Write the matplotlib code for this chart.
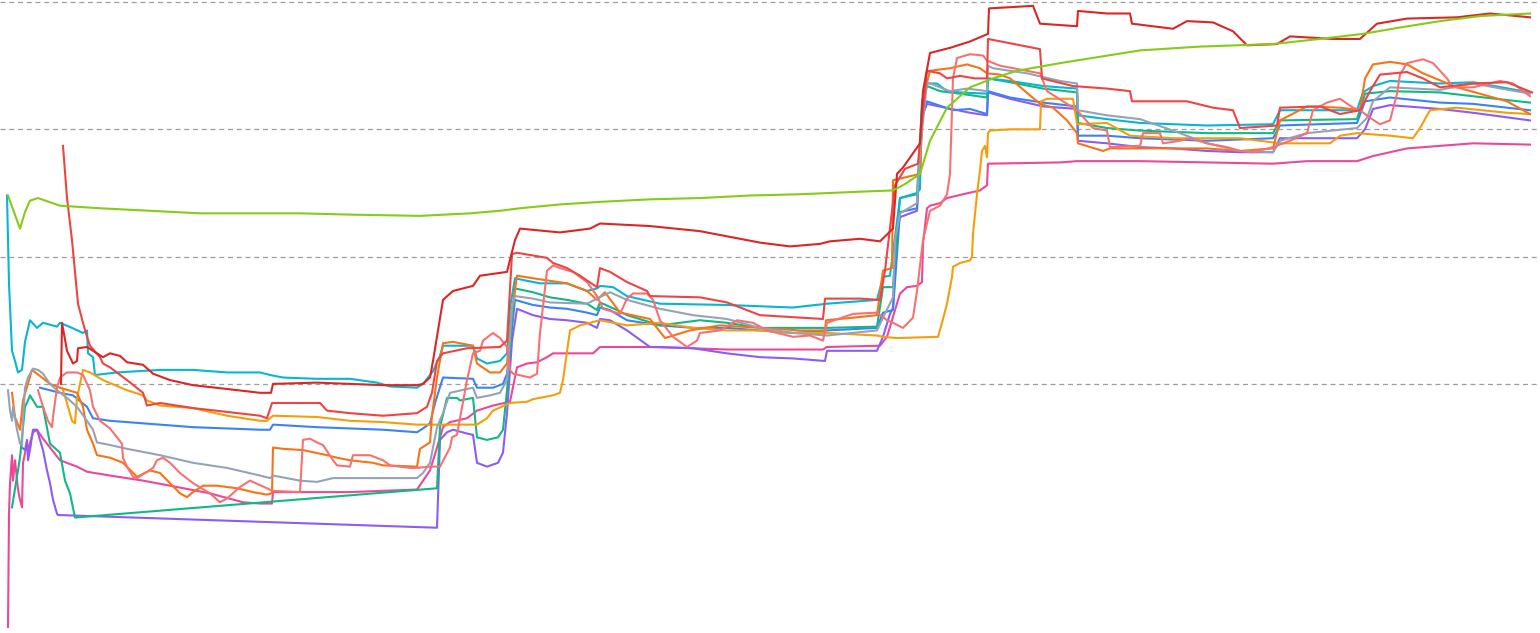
import matplotlib
matplotlib.use("Agg")
from matplotlib import pyplot as plt

# x = sample index, y = value (grid lines at 1, 2, 3, 4)
lime_x = [8, 14, 20, 25, 30, 38, 60, 100, 150, 200, 300, 350, 420, 470, 500, 520, 560, 600, 650, 700, 750, 800,
          860, 893, 905, 920, 930, 947, 970, 993, 1017, 1060, 1140, 1200, 1273, 1320, 1363, 1400, 1440, 1480, 1530]
lime_y = [2.48, 2.35, 2.22, 2.35, 2.44, 2.46, 2.40, 2.38, 2.36, 2.34, 2.34, 2.33, 2.32, 2.34, 2.36, 2.38, 2.41, 2.43,
          2.45, 2.46, 2.48, 2.49, 2.51, 2.52, 2.57, 2.65, 2.91, 3.17, 3.33, 3.40, 3.46, 3.52, 3.62, 3.65, 3.67, 3.71,
          3.75, 3.80, 3.85, 3.89, 3.91]

darkred_x = [61, 62, 67, 73, 77, 78, 87, 93, 103, 110, 120, 127, 143, 153, 170, 193, 227, 260, 271, 273,
             317, 350, 383, 417, 423, 430, 433, 443, 453, 473, 480, 507, 515, 520, 560, 590, 600, 650, 700, 740,
             760, 790, 820, 830, 860, 880, 893, 897, 903, 920, 923, 930, 950, 970, 988, 989, 1033, 1040, 1077, 1078,
             1107, 1130, 1132, 1173, 1187, 1213, 1233, 1247, 1277, 1290, 1333, 1360, 1377, 1407, 1457, 1490, 1530]
darkred_y = [1.00, 1.48, 1.26, 1.16, 1.18, 1.28, 1.29, 1.26, 1.21, 1.24, 1.22, 1.17, 1.15, 1.08, 1.03, 0.99, 0.96,
             0.93, 0.93, 1.00, 1.01, 1.00, 0.99, 0.99, 1.00, 1.05, 1.18, 1.66, 1.73, 1.77, 1.85, 1.88, 2.13, 2.22,
             2.19, 2.22, 2.26, 2.24, 2.20, 2.14, 2.11, 2.08, 2.10, 2.12, 2.14, 2.12, 2.22, 2.65, 2.70, 2.89, 3.30,
             3.60, 3.64, 3.69, 3.75, 3.95, 3.97, 3.83, 3.81, 3.93, 3.91, 3.91, 3.83, 3.79, 3.85, 3.84, 3.77, 3.66,
             3.67, 3.73, 3.71, 3.71, 3.83, 3.87, 3.88, 3.91, 3.88]

red_x = [63, 67, 72, 78, 83, 87, 90, 100, 103, 110, 127, 143, 147, 160, 193, 227, 260, 267, 272, 300, 320, 327,
         350, 383, 417, 427, 432, 437, 443, 467, 500, 507, 512, 517, 547, 553, 567, 580, 597, 600, 610, 627, 647,
         650, 700, 727, 760, 823, 825, 860, 880, 885, 895, 905, 918, 922, 927, 940, 947, 960, 975, 987, 988, 1040,
         1042, 1073, 1107, 1130, 1132, 1187, 1213, 1233, 1240, 1277, 1280, 1320, 1340, 1360, 1370, 1380, 1407,
         1423, 1440, 1473, 1507, 1532]
red_y = [2.87, 2.46, 2.13, 1.63, 1.48, 1.37, 1.30, 1.21, 1.16, 1.13, 1.03, 0.93, 0.83, 0.85, 0.81, 0.78, 0.75,
         0.73, 0.85, 0.85, 0.85, 0.79, 0.77, 0.75, 0.77, 0.82, 0.93, 1.18, 1.24, 1.28, 1.29, 1.34, 2.02, 2.03, 1.99,
         1.95, 1.91, 1.85, 1.76, 1.91, 1.88, 1.80, 1.73, 1.69, 1.68, 1.64, 1.54, 1.51, 1.67, 1.67, 1.66, 1.89, 2.56,
         2.69, 2.73, 3.07, 3.46, 3.44, 3.40, 3.42, 3.40, 3.40, 3.71, 3.63, 3.40, 3.34, 3.32, 3.30, 3.22, 3.22, 3.17,
         3.15, 3.01, 3.03, 3.17, 3.18, 3.12, 3.15, 3.30, 3.43, 3.45, 3.40, 3.33, 3.36, 3.37, 3.29]

cyan_x = [7, 9, 12, 15, 18, 22, 25, 30, 37, 43, 57, 60, 72, 83, 87, 88, 93, 95, 117, 160, 193, 227, 260, 270, 283,
          317, 350, 377, 390, 417, 423, 433, 440, 443, 473, 477, 487, 500, 507, 510, 515, 527, 540, 567, 587, 597,
          600, 613, 627, 660, 727, 793, 827, 877, 883, 890, 900, 917, 920, 922, 927, 937, 947, 960, 987, 988, 1010,
          1043, 1077, 1078, 1107, 1140, 1173, 1207, 1273, 1280, 1357, 1363, 1373, 1390, 1440, 1473, 1530]
cyan_y = [2.48, 1.79, 1.26, 1.18, 1.09, 1.11, 1.33, 1.50, 1.44, 1.48, 1.45, 1.48, 1.44, 1.40, 1.42, 1.24, 1.21,
          1.07, 1.09, 1.11, 1.11, 1.09, 1.09, 1.07, 1.05, 1.04, 1.04, 1.01, 0.98, 0.97, 1.00, 1.10, 1.22, 1.30,
          1.30, 1.20, 1.16, 1.18, 1.24, 1.60, 1.83, 1.81, 1.79, 1.79, 1.73, 1.75, 1.77, 1.76, 1.69, 1.63, 1.62,
          1.60, 1.63, 1.66, 1.84, 1.85, 2.46, 2.50, 2.53, 3.22, 3.36, 3.36, 3.30, 3.29, 3.28, 3.40, 3.38, 3.34,
          3.32, 3.11, 3.08, 3.05, 3.04, 3.03, 3.04, 3.15, 3.15, 3.29, 3.34, 3.38, 3.36, 3.37, 3.29]

orange_x = [12, 15, 20, 23, 32, 37, 50, 60, 77, 83, 87, 93, 97, 110, 123, 137, 150, 160, 170, 180, 187, 193, 203,
            217, 237, 253, 267, 272, 273, 283, 303, 327, 337, 350, 373, 383, 417, 420, 430, 432, 437, 443, 453, 473,
            477, 490, 500, 507, 512, 517, 533, 550, 567, 587, 597, 605, 620, 650, 665, 690, 720, 760, 800, 825, 826,
            853, 877, 883, 892, 893, 920, 923, 930, 950, 967, 980, 987, 1000, 1010, 1040, 1053, 1067, 1077, 1078,
            1103, 1110, 1140, 1207, 1240, 1273, 1280, 1307, 1340, 1360, 1365, 1373, 1390, 1407, 1423, 1457, 1507,
            1530]
orange_y = [0.93, 0.74, 0.64, 0.87, 1.11, 1.08, 1.00, 0.97, 0.93, 0.82, 0.64, 0.53, 0.44, 0.42, 0.38, 0.27, 0.32,
            0.30, 0.22, 0.14, 0.11, 0.15, 0.20, 0.20, 0.18, 0.15, 0.13, 0.14, 0.50, 0.49, 0.48, 0.44, 0.42, 0.40,
            0.38, 0.36, 0.35, 0.49, 0.54, 0.75, 1.05, 1.32, 1.33, 1.30, 1.16, 1.09, 1.09, 1.16, 1.58, 1.85, 1.83,
            1.81, 1.79, 1.73, 1.66, 1.72, 1.56, 1.51, 1.36, 1.42, 1.46, 1.44, 1.42, 1.42, 1.50, 1.52, 1.54, 1.89,
            1.91, 2.60, 2.65, 3.25, 3.46, 3.48, 3.51, 3.48, 3.44, 3.43, 3.40, 3.20, 3.17, 3.07, 2.97, 2.89, 2.83,
            2.85, 2.85, 2.85, 2.83, 2.85, 3.07, 3.18, 3.17, 3.15, 3.40, 3.51, 3.53, 3.51, 3.44, 3.33, 3.22, 3.12]

amber_x = [63, 67, 72, 75, 77, 83, 90, 103, 127, 143, 147, 160, 193, 227, 260, 267, 273, 317, 350, 383, 417, 477,
           487, 493, 510, 527, 533, 553, 560, 563, 570, 580, 600, 627, 660, 693, 727, 760, 793, 827, 877, 883, 897,
           938, 942, 947, 952, 953, 960, 970, 972, 973, 977, 980, 982, 985, 987, 988, 990, 1010, 1040, 1041, 1047,
           1073, 1077, 1107, 1130, 1173, 1207, 1240, 1280, 1307, 1330, 1340, 1357, 1373, 1390, 1413, 1420, 1430,
           1457, 1507, 1530]
amber_y = [0.95, 0.85, 0.71, 0.69, 0.89, 1.11, 1.09, 1.03, 0.95, 0.91, 0.87, 0.83, 0.81, 0.75, 0.71, 0.71, 0.75,
           0.74, 0.71, 0.70, 0.68, 0.68, 0.73, 0.79, 0.85, 0.86, 0.88, 0.91, 0.93, 1.03, 1.42, 1.46, 1.50, 1.46,
           1.48, 1.44, 1.42, 1.42, 1.40, 1.40, 1.38, 1.37, 1.36, 1.37, 1.48, 1.63, 1.84, 1.92, 1.95, 1.97, 2.00,
           2.18, 2.49, 2.68, 2.83, 2.87, 2.78, 2.97, 2.99, 3.00, 3.00, 3.22, 3.24, 3.24, 3.04, 3.05, 2.95, 2.93,
           2.93, 2.93, 2.89, 2.89, 2.89, 2.95, 2.97, 2.96, 2.95, 2.93, 3.01, 3.15, 3.17, 3.13, 3.12]

blue_x = [40, 60, 73, 87, 93, 110, 127, 160, 193, 227, 260, 270, 273, 317, 350, 383, 417, 423, 430, 435, 443, 473,
          477, 493, 503, 507, 512, 515, 533, 550, 567, 587, 597, 600, 610, 627, 660, 693, 727, 760, 793, 827, 877,
          883, 893, 900, 917, 922, 927, 953, 970, 987, 988, 1010, 1043, 1077, 1078, 1107, 1140, 1207, 1273, 1280,
          1357, 1365, 1390, 1440, 1473, 1530]
blue_y = [0.97, 0.93, 0.91, 0.82, 0.73, 0.71, 0.70, 0.68, 0.66, 0.65, 0.64, 0.64, 0.68, 0.66, 0.65, 0.64, 0.62,
          0.65, 0.69, 0.85, 1.05, 1.04, 0.97, 0.97, 1.00, 1.08, 1.44, 1.66, 1.62, 1.60, 1.59, 1.56, 1.54, 1.60,
          1.58, 1.50, 1.46, 1.44, 1.44, 1.42, 1.40, 1.42, 1.44, 1.56, 1.58, 2.35, 2.38, 3.10, 3.22, 3.15, 3.16,
          3.12, 3.30, 3.25, 3.21, 3.18, 2.95, 2.95, 2.93, 2.91, 2.93, 3.03, 3.05, 3.22, 3.25, 3.21, 3.20, 3.15]

green_x = [12, 20, 25, 28, 30, 37, 43, 50, 60, 65, 70, 75, 437, 440, 447, 457, 460, 473, 477, 487, 498, 503, 507,
           512, 515, 533, 550, 567, 587, 597, 600, 617, 627, 660, 700, 727, 760, 793, 827, 877, 883, 893, 900, 917,
           922, 927, 940, 960, 987, 988, 1010, 1043, 1077, 1078, 1107, 1140, 1207, 1273, 1280, 1357, 1365, 1390,
           1440, 1473, 1530]
green_y = [0.03, 0.42, 0.82, 0.87, 0.91, 0.82, 0.82, 0.53, 0.46, 0.24, 0.14, -0.05, 0.18, 0.66, 0.89, 0.89, 0.87,
           0.89, 0.58, 0.56, 0.58, 0.64, 0.95, 1.50, 1.75, 1.72, 1.68, 1.66, 1.63, 1.58, 1.64, 1.58, 1.54, 1.46,
           1.50, 1.48, 1.44, 1.44, 1.44, 1.45, 1.76, 1.76, 2.46, 2.49, 3.20, 3.34, 3.30, 3.28, 3.25, 3.40, 3.37,
           3.32, 3.29, 3.05, 3.01, 2.99, 2.97, 2.97, 3.07, 3.08, 3.28, 3.30, 3.29, 3.26, 3.21]

gray_x = [8, 10, 12, 13, 17, 20, 22, 23, 25, 28, 33, 38, 43, 50, 57, 67, 77, 87, 93, 97, 110, 127, 160, 193, 227,
          260, 270, 273, 300, 317, 333, 417, 423, 430, 437, 443, 450, 467, 473, 477, 490, 500, 507, 512, 515, 533,
          550, 587, 597, 610, 627, 660, 693, 727, 760, 793, 827, 877, 883, 893, 895, 900, 917, 920, 927, 940, 950,
          967, 987, 988, 993, 1027, 1060, 1077, 1078, 1107, 1140, 1173, 1207, 1240, 1273, 1280, 1307, 1357, 1367,
          1373, 1390, 1440, 1473, 1530]
gray_y = [0.95, 0.79, 0.71, 0.82, 0.64, 0.53, 0.52, 0.71, 0.97, 1.05, 1.12, 1.11, 1.08, 1.00, 0.95, 0.89, 0.82,
          0.71, 0.64, 0.54, 0.52, 0.49, 0.44, 0.38, 0.34, 0.28, 0.26, 0.28, 0.24, 0.23, 0.26, 0.26, 0.30, 0.38,
          0.66, 0.77, 0.93, 0.96, 0.97, 0.89, 0.91, 0.93, 1.03, 1.60, 1.69, 1.67, 1.64, 1.63, 1.67, 1.72, 1.66,
          1.59, 1.54, 1.51, 1.44, 1.40, 1.38, 1.42, 1.52, 1.68, 2.13, 2.34, 2.42, 2.83, 3.37, 3.33, 3.30, 3.32,
          3.30, 3.50, 3.48, 3.44, 3.38, 3.36, 3.15, 3.11, 3.08, 2.99, 2.89, 2.83, 2.82, 2.91, 2.97, 3.01, 3.09,
          3.22, 3.33, 3.31, 3.36, 3.28]

purple_x = [22, 25, 27, 28, 30, 33, 37, 43, 47, 50, 53, 57, 58, 437, 440, 447, 453, 467, 473, 477, 487, 498, 503,
            507, 512, 517, 533, 550, 567, 587, 597, 600, 610, 627, 650, 660, 693, 727, 760, 793, 825, 827, 877, 883,
            890, 893, 897, 900, 917, 922, 927, 970, 987, 988, 1010, 1043, 1077, 1078, 1107, 1140, 1173, 1207, 1240,
            1273, 1280, 1357, 1365, 1373, 1390, 1440, 1473, 1530]
purple_y = [0.50, 0.48, 0.56, 0.40, 0.48, 0.64, 0.64, 0.48, 0.32, 0.22, 0.09, -0.02, -0.03, -0.13, 0.56, 0.62,
            0.64, 0.61, 0.60, 0.38, 0.35, 0.38, 0.46, 0.77, 1.34, 1.59, 1.54, 1.51, 1.50, 1.48, 1.44, 1.51, 1.50,
            1.42, 1.29, 1.29, 1.28, 1.24, 1.21, 1.20, 1.18, 1.26, 1.26, 1.37, 1.55, 1.60, 2.20, 2.31, 2.36, 3.10,
            3.20, 3.13, 3.11, 3.29, 3.24, 3.18, 3.16, 2.91, 2.89, 2.86, 2.85, 2.83, 2.82, 2.82, 2.93, 2.93, 3.00,
            3.16, 3.19, 3.16, 3.13, 3.07]

pink_x = [8, 9, 10, 12, 13, 15, 18, 20, 22, 23, 27, 28, 33, 37, 43, 50, 60, 77, 87, 110, 143, 177, 210, 243, 260,
          272, 273, 317, 350, 383, 417, 430, 437, 443, 450, 467, 477, 493, 510, 517, 527, 537, 547, 553, 593, 600,
          650, 693, 727, 823, 827, 880, 887, 900, 907, 917, 922, 923, 927, 930, 940, 947, 963, 980, 987, 988, 1060,
          1077, 1140, 1207, 1273, 1307, 1357, 1373, 1407, 1440, 1473, 1530]
pink_y = [-0.91, -0.02, 0.22, 0.44, 0.24, 0.40, 0.17, 0.09, 0.03, 0.38, 0.53, 0.48, 0.62, 0.64, 0.57, 0.50, 0.40,
          0.35, 0.31, 0.28, 0.24, 0.19, 0.14, 0.07, 0.06, 0.06, 0.15, 0.15, 0.15, 0.16, 0.17, 0.32, 0.50, 0.66,
          0.70, 0.73, 0.79, 0.83, 0.86, 1.13, 1.16, 1.17, 1.21, 1.24, 1.24, 1.29, 1.29, 1.28, 1.27, 1.27, 1.29,
          1.30, 1.37, 1.71, 1.76, 1.77, 1.80, 2.10, 2.38, 2.40, 2.42, 2.46, 2.49, 2.52, 2.56, 2.73, 2.74, 2.75,
          2.75, 2.74, 2.73, 2.75, 2.75, 2.79, 2.85, 2.87, 2.89, 2.88]

salmon_x = [38, 43, 48, 52, 53, 57, 60, 67, 77, 83, 90, 93, 100, 110, 117, 122, 123, 127, 133, 137, 147, 153, 157,
            163, 170, 180, 193, 210, 220, 227, 240, 250, 267, 272, 300, 303, 310, 317, 323, 333, 337, 350, 353, 370,
            383, 390, 410, 417, 430, 440, 450, 452, 457, 467, 473, 480, 483, 493, 500, 507, 510, 513, 530, 537, 540,
            547, 553, 560, 573, 587, 597, 603, 620, 627, 633, 647, 653, 660, 673, 687, 697, 700, 720, 737, 753, 767,
            793, 810, 823, 827, 853, 877, 887, 893, 903, 913, 917, 923, 930, 940, 947, 950, 953, 957, 970, 983, 987,
            1000, 1040, 1047, 1077, 1093, 1107, 1110, 1140, 1143, 1160, 1163, 1180, 1190, 1207, 1227, 1240, 1253,
            1273, 1290, 1307, 1313, 1327, 1340, 1353, 1360, 1370, 1380, 1390, 1397, 1400, 1407, 1423, 1433, 1447,
            1453, 1473, 1500, 1513, 1530]
salmon_y = [0.95, 0.82, 0.71, 0.66, 0.74, 0.97, 1.05, 1.09, 1.09, 1.07, 0.95, 0.82, 0.71, 0.65, 0.58, 0.53, 0.42,
            0.35, 0.27, 0.26, 0.31, 0.34, 0.40, 0.42, 0.38, 0.30, 0.22, 0.14, 0.07, 0.10, 0.19, 0.24, 0.18, 0.16,
            0.15, 0.56, 0.57, 0.54, 0.52, 0.40, 0.36, 0.35, 0.44, 0.44, 0.40, 0.36, 0.34, 0.34, 0.35, 0.35, 0.50,
            0.58, 0.60, 1.03, 1.24, 1.26, 1.34, 1.40, 1.36, 1.29, 1.11, 1.08, 1.05, 1.08, 1.40, 1.89, 1.93, 1.91,
            1.88, 1.80, 1.69, 1.59, 1.55, 1.67, 1.71, 1.71, 1.66, 1.50, 1.37, 1.29, 1.34, 1.40, 1.42, 1.50, 1.48,
            1.42, 1.37, 1.38, 1.34, 1.48, 1.55, 1.56, 1.50, 1.48, 1.44, 1.52, 1.73, 2.13, 2.36, 2.40, 2.49, 2.65,
            3.40, 3.56, 3.59, 3.58, 3.54, 3.50, 3.44, 3.30, 3.15, 3.01, 2.99, 2.86, 2.87, 2.97, 2.97, 2.89, 2.91,
            2.93, 2.89, 2.86, 2.83, 2.82, 2.86, 2.91, 2.97, 3.15, 3.21, 3.24, 3.17, 3.15, 3.09, 3.04, 3.07, 3.28,
            3.43, 3.52, 3.55, 3.52, 3.40, 3.33, 3.33, 3.38, 3.36, 3.26]

series = [
    (pink_x, pink_y, "#ec4899"),
    (purple_x, purple_y, "#8b5cf6"),
    (blue_x, blue_y, "#3b82f6"),
    (green_x, green_y, "#10b981"),
    (cyan_x, cyan_y, "#06b6d4"),
    (amber_x, amber_y, "#f59e0b"),
    (orange_x, orange_y, "#f97316"),
    (gray_x, gray_y, "#94a3b8"),
    (salmon_x, salmon_y, "#f87171"),
    (red_x, red_y, "#ef4444"),
    (darkred_x, darkred_y, "#dc2626"),
    (lime_x, lime_y, "#84cc16"),
]

fig = plt.figure(figsize=(15.4, 6.33), dpi=100)
ax = fig.add_axes([0, 0, 1, 1])

for xs, ys, color in series:
    ax.plot(xs, ys, color=color, linewidth=1.5, solid_joinstyle="round")

ax.set_xlim(0, 1540)
ax.set_ylim(-0.957, 4.016)
ax.set_yticks([1, 2, 3, 4])
ax.set_xticks([])
ax.yaxis.grid(True, color="#9e9e9e", linestyle=(0, (4, 3)), linewidth=0.9)
ax.set_axisbelow(True)
ax.tick_params(left=False, labelleft=False)
for s in ['top', 'bottom', 'left', 'right']:
    ax.spines[s].set_visible(False)

plt.savefig("out.png", dpi=100)
